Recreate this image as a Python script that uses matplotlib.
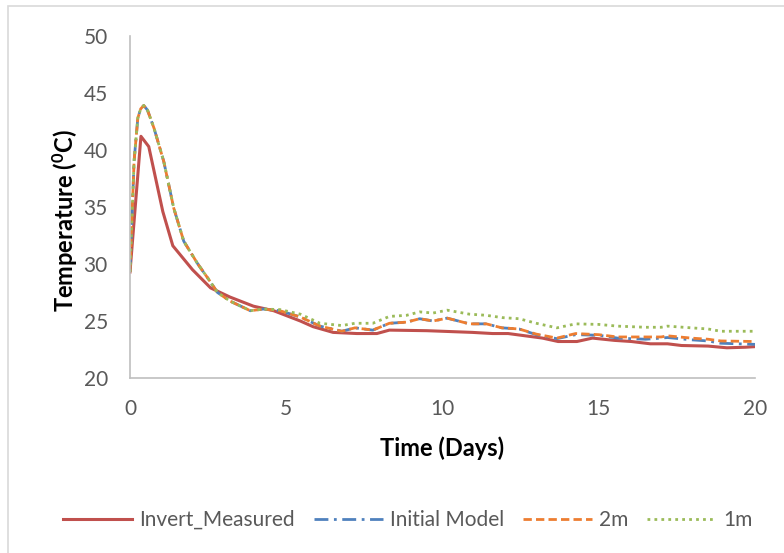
import matplotlib.pyplot as plt
from matplotlib.patches import Rectangle

plt.rcParams['font.family'] = ['Lato', 'DejaVu Sans']
plt.rcParams['mathtext.fontset'] = 'custom'
plt.rcParams['mathtext.bf'] = 'Lato:bold'

# measured invert temperature
meas_days = [0, 0.35, 0.6, 1.05, 1.37, 2.0, 2.58, 3.2, 3.95, 4.6, 5.45, 5.86, 6.5,
             7.26, 7.9, 8.3, 9.5, 10.96, 11.6, 12.1, 13.2, 13.7, 14.3, 14.8, 15.5,
             16.05, 16.65, 17.2, 17.65, 18.5, 19.1, 19.7, 20]
meas_temp = [29.3, 41.2, 40.3, 34.6, 31.6, 29.5, 27.9, 27.1, 26.3, 25.9, 25.0, 24.5, 24.0,
             23.9, 23.9, 24.2, 24.15, 24.0, 23.9, 23.9, 23.5, 23.2, 23.2, 23.5, 23.3,
             23.2, 23.0, 23.0, 22.85, 22.8, 22.65, 22.7, 22.75]

# model runs
model_days = [0, 0.13, 0.25, 0.34, 0.44, 0.56, 0.77, 1.08, 1.4, 1.72, 2.17, 2.48, 2.8, 3.2,
              3.85, 4.27, 4.8, 5.45, 6.08, 6.78, 7.2, 7.77, 8.3, 8.85, 9.27, 9.7, 10.15,
              10.86, 11.4, 11.9, 12.45, 13.0, 13.66, 14.26, 15.0, 15.6, 16.5, 17.0,
              17.2, 17.96, 18.5, 18.9, 20]
initial_temp = [29.3, 39.0, 42.8, 43.6, 43.9, 43.5, 41.9, 39.0, 34.9, 32.0, 30.0, 28.8, 27.5,
                26.75, 25.9, 26.05, 25.9, 25.35, 24.55, 24.1, 24.4, 24.2, 24.8, 24.9, 25.2,
                25.0, 25.25, 24.75, 24.75, 24.4, 24.3, 23.8, 23.45, 23.8, 23.75, 23.5, 23.4,
                23.5, 23.55, 23.35, 23.25, 23.05, 22.95]
temp_2m = [29.3, 39.0, 42.8, 43.6, 43.9, 43.5, 41.9, 39.0, 34.9, 32.0, 30.0, 28.8, 27.5,
           26.75, 25.9, 26.05, 25.9, 25.35, 24.55, 24.1, 24.4, 24.2, 24.8, 24.9, 25.2,
           25.0, 25.25, 24.75, 24.75, 24.4, 24.3, 23.85, 23.5, 23.9, 23.8, 23.6, 23.6,
           23.6, 23.7, 23.5, 23.4, 23.25, 23.2]
temp_1m = [29.3, 39.0, 42.8, 43.6, 43.9, 43.5, 41.9, 39.0, 34.9, 32.0, 30.0, 28.8, 27.5,
           26.75, 25.9, 26.05, 26.0, 25.6, 24.8, 24.6, 24.8, 24.8, 25.4, 25.5, 25.8,
           25.7, 25.95, 25.6, 25.5, 25.3, 25.2, 24.8, 24.4, 24.75, 24.7, 24.55, 24.45,
           24.45, 24.55, 24.4, 24.3, 24.1, 24.1]

fig = plt.figure(figsize=(7.84, 5.53), dpi=100)
fig.patches.append(Rectangle((8 / 784, -0.1), 1.2, (553 - 6) / 553 + 0.1,
                             transform=fig.transFigure, fill=False,
                             edgecolor='#D9D9D9', linewidth=1.2))
ax = fig.add_axes([130 / 784, 1 - 378 / 553, 625 / 784, 342 / 553])

ax.plot(meas_days, meas_temp, color='#C0504D', lw=2.2, label='Invert_Measured')
ax.plot(model_days, initial_temp, color='#4F81BD', lw=2.0, dashes=(5, 2, 1, 2),
        label='Initial Model')
ax.plot(model_days, temp_2m, color='#ED7D31', lw=2.0, dashes=(3, 1.5), label='2m')
ax.plot(model_days, temp_1m, color='#9BBB59', lw=2.0, dashes=(1, 1.5), label='1m')

ax.set_xlim(0, 20)
ax.set_ylim(20, 50)
ax.set_xticks([0, 5, 10, 15, 20])
ax.set_yticks([20, 25, 30, 35, 40, 45, 50])
ax.tick_params(length=0, labelsize=15, labelcolor='#595959')
ax.tick_params(axis='x', pad=15)
ax.tick_params(axis='y', pad=16)
for s in ['top', 'right']:
    ax.spines[s].set_visible(False)
for s in ['left', 'bottom']:
    ax.spines[s].set_color('#BFBFBF')
    ax.spines[s].set_linewidth(1.2)

ax.set_xlabel('Time (Days)', fontsize=17, fontweight='bold', va='center')
ax.xaxis.set_label_coords(0.5, (378 - 448) / 342)
ax.set_ylabel(r'Temperature ($\mathbf{^0}$C)', fontsize=17, fontweight='bold', va='center')
ax.yaxis.set_label_coords((65 - 130) / 625, 0.46)

leg = fig.legend(loc='center', bbox_to_anchor=(408 / 784, 1 - 520 / 553), ncol=4,
                 frameon=False, fontsize=15, handlelength=3.3, columnspacing=0.9,
                 handletextpad=0.35)
for t in leg.get_texts():
    t.set_color('#595959')

fig.savefig('out.png', dpi=100)
